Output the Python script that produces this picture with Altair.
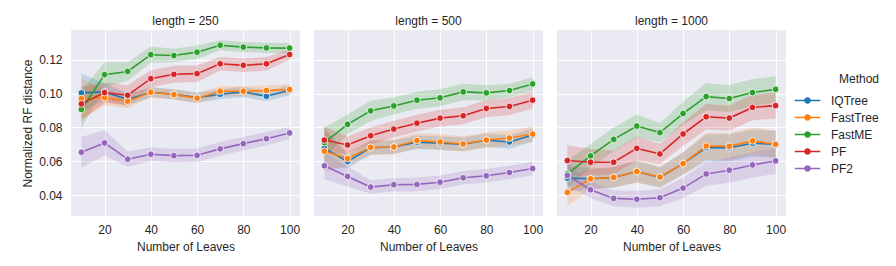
import altair as alt
import pandas as pd

leaves = [10, 20, 30, 40, 50, 60, 70, 80, 90, 100]
methods = ["IQTree", "FastTree", "FastME", "PF", "PF2"]
colors = ["#1f77b4", "#ff7f0e", "#2ca02c", "#d62728", "#9467bd"]
panels = ["length = 250", "length = 500", "length = 1000"]

# mean values, per panel
mean_250 = {
    "IQTree":   [0.1004, 0.1010, 0.0965, 0.1008, 0.0996, 0.0976, 0.0996, 0.1010, 0.0984, 0.1020],
    "FastTree": [0.0970, 0.0976, 0.0955, 0.1008, 0.0994, 0.0973, 0.1014, 0.1014, 0.1018, 0.1024],
    "FastME":   [0.0906, 0.1112, 0.1131, 0.1230, 0.1225, 0.1245, 0.1286, 0.1275, 0.1270, 0.1269],
    "PF":       [0.0939, 0.1006, 0.0990, 0.1088, 0.1114, 0.1118, 0.1176, 0.1167, 0.1176, 0.1231],
    "PF2":      [0.0653, 0.0708, 0.0612, 0.0641, 0.0633, 0.0635, 0.0673, 0.0704, 0.0733, 0.0767],
}
mean_500 = {
    "IQTree":   [0.0676, 0.0598, 0.0680, 0.0684, 0.0712, 0.0706, 0.0700, 0.0724, 0.0714, 0.0755],
    "FastTree": [0.0659, 0.0616, 0.0682, 0.0684, 0.0722, 0.0714, 0.0702, 0.0725, 0.0737, 0.0761],
    "FastME":   [0.0710, 0.0818, 0.0898, 0.0927, 0.0961, 0.0975, 0.1010, 0.1004, 0.1018, 0.1057],
    "PF":       [0.0725, 0.0696, 0.0751, 0.0790, 0.0825, 0.0855, 0.0869, 0.0912, 0.0924, 0.0961],
    "PF2":      [0.0573, 0.0510, 0.0447, 0.0461, 0.0463, 0.0476, 0.0502, 0.0514, 0.0533, 0.0557],
}
mean_1000 = {
    "IQTree":   [0.0500, 0.0496, 0.0504, 0.0539, 0.0504, 0.0586, 0.0680, 0.0680, 0.0706, 0.0700],
    "FastTree": [0.0416, 0.0496, 0.0504, 0.0539, 0.0506, 0.0586, 0.0690, 0.0688, 0.0720, 0.0700],
    "FastME":   [0.0525, 0.0631, 0.0729, 0.0808, 0.0769, 0.0882, 0.0982, 0.0971, 0.1006, 0.1025],
    "PF":       [0.0604, 0.0594, 0.0594, 0.0676, 0.0643, 0.0761, 0.0863, 0.0855, 0.0918, 0.0929],
    "PF2":      [0.0516, 0.0431, 0.0380, 0.0375, 0.0384, 0.0441, 0.0525, 0.0547, 0.0578, 0.0602],
}

# confidence-band half widths, per panel
ci_250 = {
    "IQTree":   [0.0115, 0.005, 0.0035, 0.003, 0.003, 0.003, 0.003, 0.003, 0.003, 0.003],
    "FastTree": [0.012, 0.0045, 0.004, 0.003, 0.003, 0.003, 0.003, 0.003, 0.003, 0.003],
    "FastME":   [0.011, 0.0074, 0.0055, 0.0048, 0.004, 0.004, 0.003, 0.003, 0.003, 0.003],
    "PF":       [0.010, 0.006, 0.006, 0.005, 0.005, 0.005, 0.004, 0.004, 0.004, 0.003],
    "PF2":      [0.009, 0.0076, 0.0045, 0.004, 0.004, 0.004, 0.004, 0.004, 0.004, 0.0035],
}
ci_500 = {
    "IQTree":   [0.012, 0.004, 0.004, 0.004, 0.004, 0.004, 0.004, 0.004, 0.004, 0.004],
    "FastTree": [0.012, 0.004, 0.0045, 0.0045, 0.0045, 0.0045, 0.0045, 0.0045, 0.0045, 0.0045],
    "FastME":   [0.009, 0.0058, 0.006, 0.005, 0.005, 0.005, 0.005, 0.0045, 0.004, 0.004],
    "PF":       [0.008, 0.005, 0.005, 0.005, 0.005, 0.005, 0.005, 0.005, 0.005, 0.005],
    "PF2":      [0.008, 0.006, 0.004, 0.004, 0.004, 0.004, 0.004, 0.004, 0.004, 0.004],
}
ci_1000 = {
    "IQTree":   [0.008, 0.006, 0.006, 0.0065, 0.006, 0.0065, 0.008, 0.008, 0.008, 0.008],
    "FastTree": [0.008, 0.006, 0.006, 0.0065, 0.006, 0.0065, 0.008, 0.008, 0.008, 0.008],
    "FastME":   [0.008, 0.007, 0.007, 0.0068, 0.0055, 0.007, 0.008, 0.008, 0.008, 0.0077],
    "PF":       [0.009, 0.008, 0.007, 0.007, 0.006, 0.007, 0.0075, 0.0075, 0.0075, 0.0076],
    "PF2":      [0.006, 0.005, 0.0047, 0.005, 0.005, 0.006, 0.007, 0.0075, 0.0075, 0.0077],
}

means = [mean_250, mean_500, mean_1000]
cis = [ci_250, ci_500, ci_1000]

rows = []
for p, m, c in zip(panels, means, cis):
    for meth in methods:
        for i, n in enumerate(leaves):
            rows.append({
                "length": p, "Method": meth, "order": methods.index(meth),
                "leaves": n, "mean": m[meth][i],
                "lo": m[meth][i] - c[meth][i], "hi": m[meth][i] + c[meth][i],
            })
df = pd.DataFrame(rows)

FONT = "Liberation Sans"
TXT = "#262626"

xenc = alt.X("leaves:Q", title="Number of Leaves",
             scale=alt.Scale(domain=[5.5, 104.5], nice=False, zero=False),
             axis=alt.Axis(values=[20, 40, 60, 80, 100], labelPadding=8, titlePadding=6))
yscale = alt.Scale(domain=[0.0276, 0.1376], nice=False, zero=False)
yaxis = alt.Axis(values=[0.04, 0.06, 0.08, 0.10, 0.12], format=".2f", labelPadding=9, titlePadding=4)
cscale = alt.Scale(domain=methods, range=colors)
# same mapping, listed in reverse so its (hidden) legend is not merged with the line legend
fscale = alt.Scale(domain=methods[::-1], range=colors[::-1])

# line with a dot in the middle (concentric strokes make a solid dot)
legend_symbol = ("M-1.5,0L1.5,0"
                 "M0.3,0A0.3,0.3 0 1,1 -0.3,0A0.3,0.3 0 1,1 0.3,0"
                 "M0.2,0A0.2,0.2 0 1,1 -0.2,0A0.2,0.2 0 1,1 0.2,0"
                 "M0.1,0A0.1,0.1 0 1,1 -0.1,0A0.1,0.1 0 1,1 0.1,0")

base = alt.Chart(df)
band = base.mark_area(opacity=0.2).encode(
    x=xenc,
    y=alt.Y("lo:Q", scale=yscale, axis=yaxis, title="Normalized RF distance"),
    y2="hi:Q",
    fill=alt.Fill("Method:N", scale=fscale, legend=None),
    detail="Method:N",
)
line = base.mark_line(strokeWidth=1.6).encode(
    x=xenc,
    y=alt.Y("mean:Q", scale=yscale, axis=yaxis, title="Normalized RF distance"),
    color=alt.Color("Method:N", scale=cscale, legend=alt.Legend(
        title="Method", orient="none", legendX=727, legendY=44,
        titleAnchor="end",
        symbolType=legend_symbol, symbolSize=289, symbolStrokeWidth=1.6,
        labelOffset=14, rowPadding=1, titlePadding=5,
    )),
    order="leaves:Q",
)
pts = base.mark_point(filled=True, size=45, stroke="white", strokeWidth=0.8, opacity=1).encode(
    x=xenc,
    y=alt.Y("mean:Q", scale=yscale, axis=yaxis, title="Normalized RF distance"),
    fill=alt.Fill("Method:N", scale=fscale, legend=None),
    order="order:Q",
)

chart = alt.layer(band, line, pts).properties(width=229, height=186).facet(
    column=alt.Column("length:N", sort=panels,
                      header=alt.Header(title=None, labelFont=FONT, labelFontSize=12,
                                        labelColor=TXT, labelPadding=2)),
    spacing=14,
).properties(
    padding={"left": 13, "top": 7, "right": 5, "bottom": 3}
).configure_view(
    fill="#EAEAF2", stroke=None
).configure_axis(
    grid=True, gridColor="white", gridWidth=1, domain=False, ticks=False,
    labelFont=FONT, labelFontSize=12, labelColor=TXT,
    titleFont=FONT, titleFontSize=12, titleFontWeight="normal", titleColor=TXT,
).configure_legend(
    labelFont=FONT, labelFontSize=12, labelColor=TXT,
    titleFont=FONT, titleFontSize=12, titleFontWeight="normal", titleColor=TXT,
)

chart.save("out.html", embed_options={"renderer": "svg", "actions": False})
